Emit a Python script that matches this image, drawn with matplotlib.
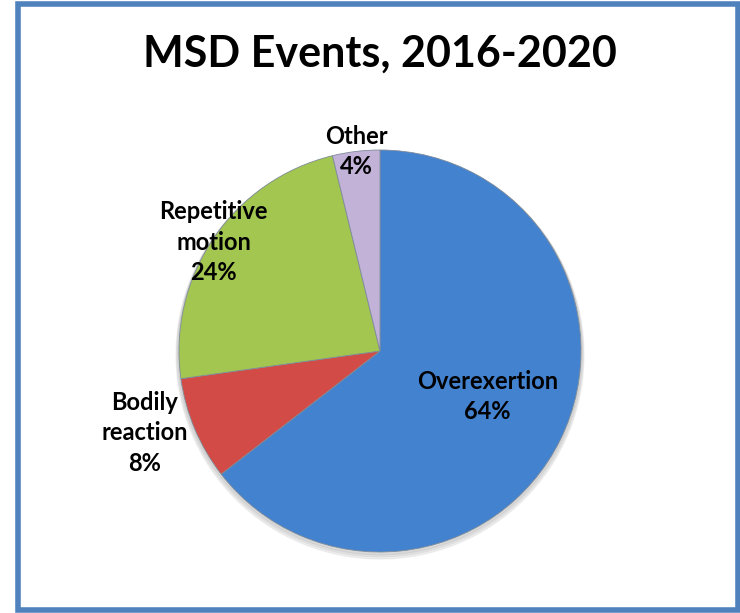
import numpy as np
import matplotlib.pyplot as plt
from matplotlib.patches import Rectangle

# Data (slice sizes, labels show rounded shares)
labels = ["Overexertion", "Bodily\nreaction", "Repetitive\nmotion", "Other"]
shares = [64.5, 8.3, 23.4, 3.8]
pct_text = ["64%", "8%", "24%", "4%"]
colors = ["#4382CF", "#D24B46", "#A2C64F", "#C2B2D8"]
label_dist = [0.58, 1.24, 0.99, 1.0]
label_nudge = [3.0, -3.7, 1.0, 0.0]  # degrees

plt.rcParams['font.family'] = ['Lato', 'DejaVu Sans']

fig = plt.figure(figsize=(7.4, 6.13), dpi=100)
ax = fig.add_axes([0, 0, 1, 1])

cx, cy, r = 380, 613 - 351, 201

# soft shadow under the pie
for k in range(3):
    sh = plt.Circle((cx, cy - 2 - k), r + 1 + k, color='black', alpha=0.05, zorder=0)
    ax.add_patch(sh)

wedges, _ = ax.pie(shares, colors=colors, startangle=90, counterclock=False,
                   center=(cx, cy), radius=r, frame=True,
                   wedgeprops=dict(edgecolor='#7f8c99', linewidth=0.6))
ax.set_xlim(0, 740)
ax.set_ylim(0, 613)
ax.axis('off')

# labels
start = 90
total = sum(shares)
for lab, val, txt, d, nd in zip(labels, shares, pct_text, label_dist, label_nudge):
    span = val / total * 360
    mid = np.deg2rad(start - span / 2 + nd)
    start -= span
    x = cx + d * r * np.cos(mid)
    y = cy + d * r * np.sin(mid)
    ax.text(x, y, f"{lab}\n{txt}", ha='center', va='center', fontsize=17,
            fontweight='bold', linespacing=1.38, color='black')

ax.text(380, 613 - 54, "MSD Events, 2016-2020", ha='center', va='center',
        fontsize=31, fontweight='bold')

# outer frame
ax.add_patch(Rectangle((17.5, 613 - 610), 720, 606, fill=False,
                       edgecolor='#4F81BD', linewidth=4, zorder=5))

fig.savefig("out.png", dpi=100)
